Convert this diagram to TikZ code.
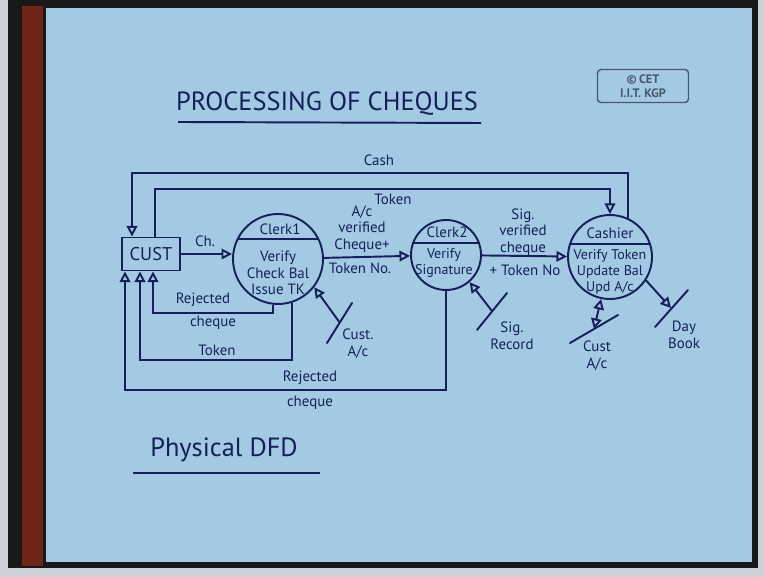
\documentclass[tikz,border=0pt]{standalone}
\usepackage{fontspec}
\setmainfont{PT Sans}
\usepackage{xcolor}
\usetikzlibrary{arrows.meta,calc}
\definecolor{slide}{RGB}{163,202,226}
\definecolor{ink}{RGB}{22,32,88}
\definecolor{wood}{RGB}{112,36,20}
\definecolor{cetcol}{RGB}{72,88,110}
\definecolor{rim}{RGB}{205,208,212}

\begin{document}
\begin{tikzpicture}[x=0.02cm,y=-0.02cm,
  pen/.style={draw=ink,line width=1.1pt},
  flow/.style={pen,-{Triangle[open,length=6pt,width=6pt]}},
  both/.style={pen,{Triangle[open,length=6pt,width=6pt]}-{Triangle[open,length=6pt,width=6pt]}},
  lab/.style={ink,font=\fontsize{8.5}{9.5}\selectfont,inner sep=1pt,align=center},
  proc/.style={pen,circle,inner sep=0pt},
  store/.style={pen,line cap=round}]
  \useasboundingbox (0,0) rectangle (764,577);
  % frame and slide
  \fill[rim] (0,0) rectangle (764,577);
  \fill[black!90] (8,0) rectangle (758,568);
  \fill[wood] (22,6) rectangle (43,566);
  \fill[slide] (46,8) rectangle (752,562);
  % heading and stamp
  \node[ink,font=\fontsize{15}{17}\selectfont] (title) at (327,104) {PROCESSING OF CHEQUES};
  \draw[pen] (178,122) -- (481,123);
  \node[draw=cetcol,rounded corners=2pt,line width=0.8pt,text=cetcol,align=center,
        font=\bfseries\fontsize{7}{8}\selectfont,minimum width=1.82cm,minimum height=0.66cm,inner sep=1pt]
        (cet) at (643,86) {\textcopyright\,CET\\I.I.T. KGP};
  % customer
  \node[pen,minimum width=1.16cm,minimum height=0.66cm,ink,font=\fontsize{10.5}{12}\selectfont]
        (cust) at (151,254) {CUST};
  % clerk 1
  \node[proc,minimum size=1.8cm] (clerk1) at (278,259) {};
  \draw[pen] (clerk1.154) -- (clerk1.26);
  \node[lab] (c1name) at (280,229) {Clerk1};
  \node[lab] (c1task) at (278,273) {Verify\\Check Bal\\Issue TK};
  % clerk 2
  \node[proc,minimum size=1.4cm] (clerk2) at (446,255) {};
  \draw[pen] (clerk2.160) -- (clerk2.20);
  \node[lab] (c2name) at (447,232) {Clerk2};
  \node[lab,font=\fontsize{8}{9.5}\selectfont] (c2task) at (444,263) {Verify\\Signature};
  % cashier
  \node[proc,minimum size=1.68cm] (cashier) at (610,257) {};
  \draw[pen] (cashier.163) -- (cashier.17);
  \node[lab] (c3name) at (610,233) {Cashier};
  \node[lab,font=\fontsize{8}{9}\selectfont] (c3task) at (610,272) {Verify Token\\Update Bal\\Upd A/c};
  % forward flows
  \draw[flow] (cust.east) -- (cust.east -| clerk1.west);
  \node[lab] (lch) at (205,241) {Ch.};
  \draw[flow] (clerk1) -- (clerk2);
  \node[lab] (lver) at (362,229) {A/c\\verified\\Cheque+};
  \node[lab] (ltno) at (360,268) {Token No.};
  \draw[flow] (clerk2) -- (cashier);
  \node[lab] (lsig) at (523,232) {Sig.\\verified\\cheque};
  \node[lab] (ltno2) at (525,270) {+ Token No};
  % cash and token back to customer / on to cashier
  \coordinate (cashbend) at (132,173);
  \draw[flow] (cashier.65) |- (cashbend) -- (cashbend |- cust.north);
  \node[lab] (lcash) at (379,160) {Cash};
  \coordinate (tokbend) at (155,189);
  \draw[flow] (tokbend |- cust.north) -- (tokbend) -| (cashier.north);
  \node[lab] (ltok) at (393,199) {Token};
  % returns from the clerks
  \coordinate (rej1) at (153,313);
  \draw[flow] (clerk1.-96) |- (rej1) -- (rej1 |- cust.south);
  \node[lab] (lrej1a) at (203,300) {Rejected};
  \node[lab] (lrej1b) at (213,323) {cheque};
  \coordinate (tok2) at (140,360);
  \draw[flow] (clerk1.-72) |- (tok2) -- (tok2 |- cust.south);
  \node[lab] (ltok2) at (217,350) {Token};
  \coordinate (rej2) at (125,390);
  \draw[flow] (clerk2.south) |- (rej2) -- (rej2 |- cust.south);
  \node[lab] (lrej2a) at (310,378) {Rejected};
  \node[lab] (lrej2b) at (310,403) {cheque};
  % data stores
  \coordinate (custac1) at (340,323);
  \draw[store] ($(custac1)+(-13,20)$) -- ($(custac1)+(12,-20)$);
  \draw[flow] (custac1) -- (clerk1.-38);
  \node[lab] (lcustac1) at (358,344) {Cust.\\A/c};
  \coordinate (sigrec) at (492,311);
  \draw[store] ($(sigrec)+(-15,19)$) -- ($(sigrec)+(15,-18)$);
  \draw[flow] (sigrec) -- (clerk2.-49);
  \node[lab] (lsigrec) at (512,336) {Sig.\\Record};
  \coordinate (custac2) at (594,329);
  \draw[store] ($(custac2)+(-24,14)$) -- ($(custac2)+(24,-14)$);
  \draw[both] (cashier.-102) -- (custac2);
  \node[lab] (lcustac2) at (597,356) {Cust\\A/c};
  \coordinate (daybook) at (671,308);
  \draw[store] ($(daybook)+(-16,19)$) -- ($(daybook)+(17,-18)$);
  \draw[flow] (cashier.-33) -- (daybook);
  \node[lab] (ldaybook) at (684,335) {Day\\Book};
  % footer
  \node[ink,font=\fontsize{15}{17}\selectfont] (foot) at (224,450) {Physical DFD};
  \draw[pen] (133,473) -- (320,473);
\end{tikzpicture}
\end{document}
